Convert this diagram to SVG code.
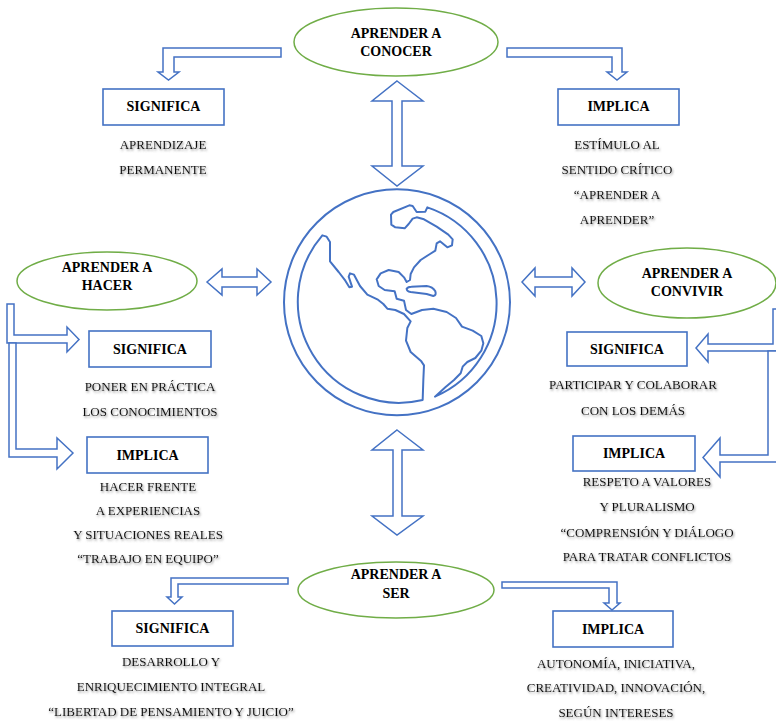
<svg xmlns="http://www.w3.org/2000/svg" width="776" height="721" viewBox="0 0 776 721">
<defs>
<style>
.ell{fill:#fff;stroke:#70AD47;stroke-width:1.5}
.box{fill:#fff;stroke:#4472C4;stroke-width:1.6}
.arr{fill:#fff;stroke:#4472C4;stroke-width:1.5;stroke-linejoin:miter}
.h{font-family:'Liberation Serif','Times New Roman',serif;font-weight:bold;font-size:14px;fill:#000;text-anchor:middle}
.t{font-family:'Liberation Serif','Times New Roman',serif;font-size:13px;fill:#111;text-anchor:middle;filter:url(#sh)}
.globe{fill:none;stroke:#4472C4;stroke-width:6;stroke-linejoin:round;stroke-linecap:round}
</style>
<filter id="sh" x="-10%" y="-40%" width="120%" height="180%">
<feDropShadow dx="1" dy="1.5" stdDeviation="0.8" flood-color="#666" flood-opacity="0.75"/>
</filter>
</defs>
<rect width="776" height="721" fill="#fff"/>

<g id="connectors">
<path class="arr" d="M281,48 H163 V72 H158 L168.5,80 L179,72 H174 V57 H281 Z"/>
<path class="arr" d="M507,48 H622 V72 H627 L617,80 L607,72 H612 V57 H507 Z"/>
<path class="arr" d="M397,81 L423,101 H402 V166 H423 L397,186 L372,166 H392 V101 H372 Z"/>
<path class="arr" d="M397,430 L423,450 H402 V516 H423 L397,535 L372,516 H393 V450 H372 Z"/>
<path class="arr" d="M207,282 L222,269 V277 H257 V269 L271,282 L257,295 V287 H222 V295 Z"/>
<path class="arr" d="M522,282 L535,268 V277 H572 V268 L585,282 L572,296 V287 H535 V296 Z"/>
<path class="arr" d="M7,304 H14 V335 H67 V327 L79,339.5 L67,352 V343 H7 Z"/>
<path class="arr" d="M9,343 H16 V449 H57 V438 L73,453 L57,469 V457 H9 Z"/>
<path class="arr" d="M773,309 H790 V351 H708 V362 L696,348 L708,334 V344 H773 Z"/>
<path class="arr" d="M768,351 H790 V462 H720 V477 L703,457.5 L720,438 V455 H768 Z"/>
<path class="arr" d="M288,578 H171 V597 H167 L174.5,604 L182,597 H178 V584 H288 Z"/>
<path class="arr" d="M502,582 H617 V603 H620 L612,610 L604,603 H609 V588 H502 Z"/>
</g>

<g id="globe" transform="translate(280 180) scale(0.33333)">
<circle class="globe" cx="351" cy="367" r="339"/>
<path class="globe" d="M465,650 A304,304 0 0 0 442,82 L436,95 L410,96 L398,78 L388,76 L340,96 L333,104 L334,134 L346,142 L374,145 L386,132 L398,116 L410,112 L432,118 L470,140 L505,164 L518,178 L516,196 L502,202 L490,192 L480,184 L470,190 L466,212 L450,222 L422,240 L402,262 L392,282 L390,300 L380,306 L372,292 L356,276 L326,270 L302,280 L290,298 L296,318 L314,330 L344,334 L350,356 L372,362 L378,390 L394,402 L426,390 L460,386 L500,396 L528,414 L546,440 L578,452 L604,468 L610,490 L604,512 L586,534 L562,546 L548,560 L542,580 L522,600 L496,622 Z"/>
<path class="globe" d="M127,166 L140,170 L150,186 L150,244 L176,276 L196,302 L208,322 L216,320 L206,290 L210,280 L222,284 L240,318 L262,344 L292,358 L310,372 L322,386 L346,390 L372,402 L392,424 L382,444 L378,482 L392,516 L424,544 L432,556 L430,600 L428,660 A304,304 0 0 1 127,166 Z"/>
<path class="globe" d="M380,326 Q384,320 394,320 L440,318 Q458,320 466,334 Q470,346 460,348 L440,342 L392,336 Q380,334 380,326 Z"/>
</g>

<g id="conocer">
<ellipse class="ell" cx="396" cy="42" rx="102" ry="34"/>
<text class="h" x="396" y="38">APRENDER A</text>
<text class="h" x="396" y="56">CONOCER</text>
</g>
<g id="conocer-significa">
<rect class="box" x="103" y="89" width="121" height="36"/>
<text class="h" x="163.5" y="111">SIGNIFICA</text>
<text class="t" x="163" y="149">APRENDIZAJE</text>
<text class="t" x="163" y="174">PERMANENTE</text>
</g>
<g id="conocer-implica">
<rect class="box" x="558" y="89" width="121" height="36"/>
<text class="h" x="618.5" y="111">IMPLICA</text>
<text class="t" x="617" y="149">ESTÍMULO AL</text>
<text class="t" x="617" y="174">SENTIDO CRÍTICO</text>
<text class="t" x="617" y="199">“APRENDER A</text>
<text class="t" x="617" y="224">APRENDER”</text>
</g>

<g id="hacer">
<ellipse class="ell" cx="107" cy="281" rx="90" ry="29"/>
<text class="h" x="107" y="272">APRENDER A</text>
<text class="h" x="107" y="290">HACER</text>
</g>
<g id="hacer-significa">
<rect class="box" x="89" y="331" width="122" height="36"/>
<text class="h" x="150" y="354">SIGNIFICA</text>
<text class="t" x="150" y="391">PONER EN PRÁCTICA</text>
<text class="t" x="150" y="416">LOS CONOCIMIENTOS</text>
</g>
<g id="hacer-implica">
<rect class="box" x="87" y="437" width="121" height="36"/>
<text class="h" x="147.5" y="460">IMPLICA</text>
<text class="t" x="148" y="491">HACER FRENTE</text>
<text class="t" x="148" y="515">A EXPERIENCIAS</text>
<text class="t" x="148" y="539">Y SITUACIONES REALES</text>
<text class="t" x="148" y="563">“TRABAJO EN EQUIPO”</text>
</g>

<g id="convivir">
<ellipse class="ell" cx="687" cy="283" rx="89" ry="35"/>
<text class="h" x="687" y="278">APRENDER A</text>
<text class="h" x="687" y="296">CONVIVIR</text>
</g>
<g id="convivir-significa">
<rect class="box" x="567" y="332" width="120" height="34"/>
<text class="h" x="627" y="354">SIGNIFICA</text>
<text class="t" x="633" y="389">PARTICIPAR Y COLABORAR</text>
<text class="t" x="633" y="415">CON LOS DEMÁS</text>
</g>
<g id="convivir-implica">
<rect class="box" x="573" y="436" width="122" height="35"/>
<text class="h" x="634" y="458">IMPLICA</text>
<text class="t" x="647" y="486">RESPETO A VALORES</text>
<text class="t" x="647" y="511">Y PLURALISMO</text>
<text class="t" x="647" y="537">“COMPRENSIÓN Y DIÁLOGO</text>
<text class="t" x="647" y="561">PARA TRATAR CONFLICTOS</text>
</g>

<g id="ser">
<ellipse class="ell" cx="396" cy="590" rx="98" ry="28"/>
<text class="h" x="396" y="579">APRENDER A</text>
<text class="h" x="396" y="598">SER</text>
</g>
<g id="ser-significa">
<rect class="box" x="112" y="611" width="121" height="35"/>
<text class="h" x="172.5" y="633">SIGNIFICA</text>
<text class="t" x="171" y="666">DESARROLLO Y</text>
<text class="t" x="171" y="691">ENRIQUECIMIENTO INTEGRAL</text>
<text class="t" x="171" y="716">“LIBERTAD DE PENSAMIENTO Y JUICIO”</text>
</g>
<g id="ser-implica">
<rect class="box" x="553" y="611" width="120" height="36"/>
<text class="h" x="613" y="634">IMPLICA</text>
<text class="t" x="616" y="668">AUTONOMÍA, INICIATIVA,</text>
<text class="t" x="616" y="692">CREATIVIDAD, INNOVACIÓN,</text>
<text class="t" x="616" y="717">SEGÚN INTERESES</text>
</g>
</svg>
